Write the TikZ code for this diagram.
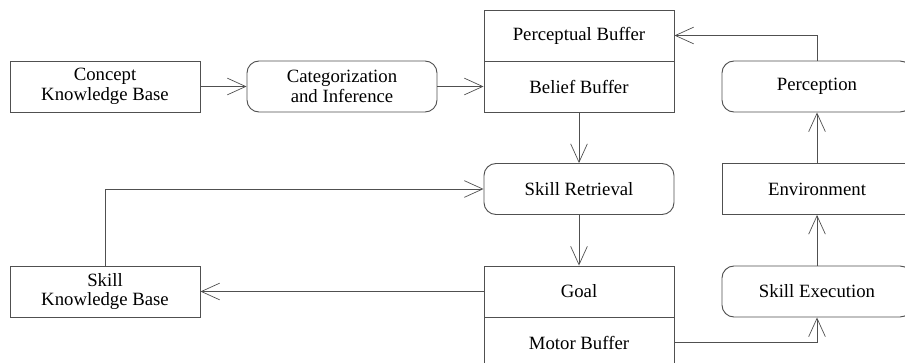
\documentclass[tikz,border=0pt]{standalone}
\usepackage{fontspec}
\setmainfont{Liberation Serif}
\usepackage{xcolor}
\usepackage{tikz}
\usetikzlibrary{arrows.meta}
\usetikzlibrary{shapes,positioning,calc}
\definecolor{edgegray}{RGB}{80,80,80}

\begin{document}
\begin{tikzpicture}[x=0.03cm,y=-0.03cm,
		box/.style={draw=edgegray,line width=0.8pt,minimum width=5.7cm,minimum height=1.53cm,inner sep=0pt,align=center,font=\fontsize{16}{17}\selectfont},
		roundbox/.style={box,rounded corners=0.36cm},
		link/.style={draw=edgegray,line width=0.8pt,-{Straight Barb[length=5.5mm,width=5mm,line width=0.6pt]}}]
		\clip (0,0) rectangle (905,362);
		
		\node[box] (conceptkb) at (105,86.5) {Concept\\Knowledge Base};
		\node[roundbox] (categ) at (342,86.5) {Categorization\\and Inference};
		\node[box] (perbuf) at (579,35.5) {Perceptual Buffer};
		\node[box] (belbuf) at (579,86.5) {Belief Buffer};
		\node[roundbox] (percep) at (817,86.5) {Perception};
		
		\node[roundbox] (skillret) at (579,189) {Skill Retrieval};
		\node[box] (environ) at (817,189) {Environment};
		
		\node[box] (skillkb) at (105,291.5) {Skill\\Knowledge Base};
		\node[box] (goal) at (579,291.5) {Goal};
		\node[box] (motbuf) at (579,342.5) {Motor Buffer};
		\node[roundbox] (skillexe) at (817,291.5) {Skill Execution};
		
		\draw[link] (conceptkb) -- (categ);
		\draw[link] (categ) -- (belbuf);
		\draw[link] (percep.north) |- (perbuf.east);
		\draw[link] (belbuf) -- (skillret);
		\draw[link] (skillret) -- (goal);
		\draw[link] (environ) -- (percep);
		\draw[link] (skillexe) -- (environ);
		\draw[link] (motbuf.east) -| (skillexe.south);
		\draw[link] (goal) -- (skillkb);
		\draw[link] (skillkb.north) |- (skillret.west);
	\end{tikzpicture}
\end{document}
